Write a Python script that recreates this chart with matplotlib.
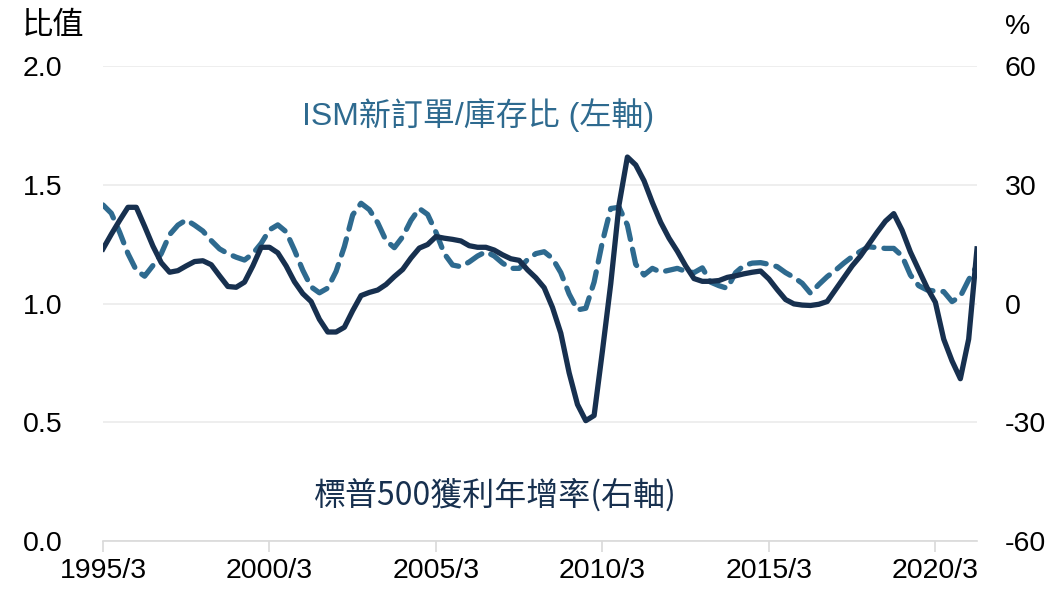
import matplotlib
matplotlib.use('Agg')
import matplotlib.pyplot as plt
import numpy as np

plt.rcParams['font.family'] = ['Liberation Sans', 'Noto Sans CJK TC', 'DejaVu Sans']

# quarterly, 1995/3 .. 2021/6
start_year = 1995
n_quarters = 106

# ISM new orders / inventories ratio (left axis)
ism_ratio = [
    1.415, 1.38, 1.30, 1.21, 1.14, 1.115, 1.16, 1.21, 1.29, 1.33,
    1.352, 1.33, 1.305, 1.265, 1.23, 1.21, 1.195, 1.183, 1.21, 1.253,
    1.31, 1.331, 1.302, 1.225, 1.14, 1.07, 1.045, 1.065, 1.135, 1.24,
    1.373, 1.422, 1.395, 1.34, 1.265, 1.235, 1.281, 1.35, 1.40, 1.375,
    1.30, 1.21, 1.162, 1.155, 1.175, 1.20, 1.218, 1.20, 1.17, 1.148,
    1.148, 1.185, 1.21, 1.218, 1.19, 1.13, 1.04, 0.973, 0.98, 1.09,
    1.26, 1.40, 1.405, 1.33, 1.165, 1.12, 1.148, 1.132, 1.14, 1.148,
    1.135, 1.13, 1.15, 1.09, 1.075, 1.064, 1.13, 1.16, 1.17, 1.172,
    1.165, 1.155, 1.13, 1.11, 1.085, 1.043, 1.08, 1.113, 1.14, 1.17,
    1.197, 1.22, 1.239, 1.235, 1.232, 1.232, 1.20, 1.12, 1.075, 1.057,
    1.052, 1.05, 1.008, 1.03, 1.10, 1.16,
]

# S&P 500 earnings growth YoY % (right axis)
eps_growth = [
    13.8, 17.5, 21.0, 24.3, 24.3, 19.5, 14.5, 10.3, 7.9, 8.3,
    9.5, 10.6, 10.8, 9.8, 7.0, 4.3, 4.1, 5.4, 9.5, 14.2,
    14.2, 12.8, 9.5, 5.5, 2.5, 0.5, -4.0, -7.2, -7.2, -6.0,
    -1.8, 2.0, 2.8, 3.4, 4.8, 6.8, 8.6, 11.5, 14.0, 14.9,
    16.9, 16.5, 16.2, 15.8, 14.6, 14.2, 14.2, 13.5, 12.3, 11.3,
    10.9, 8.5, 6.5, 4.0, -1.0, -7.5, -17.5, -25.5, -29.6, -28.3,
    -12.0, 5.0, 25.0, 37.0, 35.0, 31.0, 25.5, 20.5, 16.5, 13.2,
    9.5, 6.3, 5.6, 5.6, 5.8, 6.6, 7.0, 7.5, 7.9, 8.2,
    6.2, 3.5, 1.0, -0.1, -0.4, -0.5, -0.2, 0.5, 3.5, 6.5,
    9.5, 12.0, 15.0, 18.0, 20.8, 22.7, 18.5, 13.0, 8.5, 4.0,
    0.3, -9.0, -14.5, -19.0, -9.0, 13.8,
]

xtick_labels = ['1995/3', '2000/3', '2005/3', '2010/3', '2015/3', '2020/3']

DASH_COLOR = '#2e6a8f'
SOLID_COLOR = '#17304f'
GRID_COLOR = '#ebebeb'
TICK_FS = 20.5

fig = plt.figure(figsize=(10.53, 5.90), dpi=100)
ax = fig.add_axes([103 / 1053, 1 - 541 / 590, 874 / 1053, 475 / 590])
ax2 = ax.twinx()

x = np.arange(n_quarters)

ax.plot(x, ism_ratio, color=DASH_COLOR, lw=3.8, ls=(0, (3.2, 1.9)),
        solid_capstyle='round', dash_capstyle='round', zorder=3)
ax2.plot(x, eps_growth, color=SOLID_COLOR, lw=3.8, solid_joinstyle='round', zorder=4)

ax.set_xlim(0, n_quarters - 1)
ax.set_ylim(0, 2.0)
ax2.set_ylim(-60, 60)

ax.set_yticks([0, 0.5, 1.0, 1.5, 2.0])
ax.set_yticklabels(['0.0', '0.5', '1.0', '1.5', '2.0'])
ax2.set_yticks([-60, -30, 0, 30, 60])
ax2.set_yticklabels(['-60', '-30', '0', '30', '60'])

ax.set_xticks(np.arange(0, n_quarters, 20))
ax.set_xticklabels(xtick_labels)

for a in (ax, ax2):
    for s in a.spines.values():
        s.set_visible(False)
ax.spines['bottom'].set_visible(True)
ax.spines['bottom'].set_color('#d9d9d9')
ax.spines['bottom'].set_linewidth(1.2)

ax.grid(axis='y', color=GRID_COLOR, lw=1.2)
ax.set_axisbelow(True)

ax.tick_params(axis='y', length=0, labelsize=TICK_FS, pad=58, colors='black')
for lab in ax.get_yticklabels():
    lab.set_horizontalalignment('left')
ax2.tick_params(axis='y', length=0, labelsize=TICK_FS, pad=20, colors='black')
ax.tick_params(axis='x', length=8, width=1.2, color='#d9d9d9', labelsize=TICK_FS, pad=4)

# solid line on top of the dashed one
ax2.set_zorder(ax.get_zorder() + 1)
ax2.patch.set_visible(False)

fig.text(22 / 1053, 1 - 26 / 590, '比值', fontsize=22.5, ha='left', va='center')
fig.text(1005 / 1053, 1 - 27 / 590, '%', fontsize=TICK_FS, ha='left', va='center')

fig.text(478 / 1053, 1 - 115 / 590, 'ISM新訂單/庫存比 (左軸)', fontsize=23,
         color=DASH_COLOR, ha='center', va='center')
fig.text(495 / 1053, 1 - 495 / 590, '標普500獲利年增率(右軸)', fontsize=23,
         color=SOLID_COLOR, ha='center', va='center',
         family=['Noto Sans CJK TC', 'DejaVu Sans'])

plt.savefig('out.png', dpi=100)
plt.close()
